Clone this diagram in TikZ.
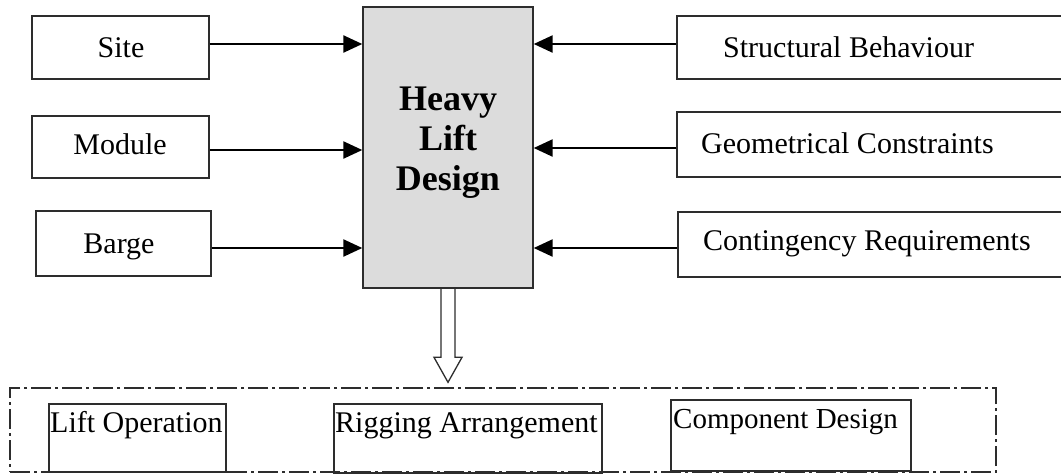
\documentclass[tikz,border=0pt]{standalone}
\usepackage{fontspec}
\setmainfont{Liberation Serif}
\usetikzlibrary{arrows.meta,calc}
\definecolor{boxgray}{RGB}{220,220,220}
\definecolor{edge}{RGB}{45,45,45}
\tikzset{
  inbox/.style={draw=edge, line width=1.4pt, rectangle, inner sep=0pt},
  lbl/.style={anchor=base west, inner sep=0pt, text=black, font=\fontsize{30}{36}\selectfont},
  lblc/.style={anchor=base, inner sep=0pt, text=black, font=\fontsize{30}{36}\selectfont},
  feed/.style={line width=2.4pt, draw=black, -{Triangle[length=19pt,width=17pt]}},
  hollowarrow/.style={line width=1.3pt, draw=edge},
  outbox/.style={draw=edge, line width=1.4pt, rectangle, inner sep=0pt,
                 dash pattern=on 20pt off 4pt on 3pt off 4pt}
}
\begin{document}
\begin{tikzpicture}[x=1pt,y=-1pt]
\useasboundingbox (0,0) rectangle (1061,475);
\clip (0,0) rectangle (1061,475);
\fill[white] (0,0) rectangle (1061,475);

% left input boxes
\node[inbox, minimum width=177pt, minimum height=63pt] (site)   at (120.5,47.5) {};
\node[inbox, minimum width=177pt, minimum height=62pt] (module) at (120.5,147) {};
\node[inbox, minimum width=175pt, minimum height=65pt] (barge)  at (123.5,243.5) {};

% central box
\node[inbox, fill=boxgray, minimum width=170pt, minimum height=281pt] (hld) at (448,147.5) {};

% right input boxes (cut by the right border)
\node[inbox, minimum width=398pt, minimum height=63pt] (struct) at (876,47.5) {};
\node[inbox, minimum width=398pt, minimum height=65pt] (geom)   at (876,144.5) {};
\node[inbox, minimum width=397pt, minimum height=65pt] (cont)   at (876.5,244.5) {};

% output group
\node[outbox, minimum width=986pt, minimum height=84pt] (out) at (503,430) {};
\node[inbox, minimum width=177pt, minimum height=68pt] (lift) at (137.5,438) {};
\node[inbox, minimum width=268pt, minimum height=69pt] (rig)  at (468,438.5) {};
\node[inbox, minimum width=240pt, minimum height=71pt] (comp) at (791,435.5) {};

% texts
\node[lblc] (tsite)  at (121,57)  {Site};
\node[lblc] (tmod)   at (120,154) {Module};
\node[lblc] (tbarge) at (119,253) {Barge};
\node[font=\bfseries\fontsize{36}{40}\selectfont, align=center, inner sep=0pt, text=black] (thld) at (448,143) {Heavy\\Lift\\Design};
\node[lbl] (tstr) at (723,57)    {Structural Behaviour};
\node[lbl] (tgeo) at (701,153)   {Geometrical Constraints};
\node[lbl] (tcon) at (703,250.5) {Contingency Requirements};
\node[lbl] (tlift) at (50,432)  {Lift Operation};
\node[lbl] (trig)  at (335,432) {Rigging Arrangement};
\node[lbl, font=\fontsize{29}{34}\selectfont] (tcomp) at (673,428) {Component Design};

% input arrows
\draw[feed] ([yshift=3.5pt]site.east)   -- ([yshift=3.5pt]site.east -| hld.west);
\draw[feed] ([yshift=-3pt]module.east)  -- ([yshift=-3pt]module.east -| hld.west);
\draw[feed] ([yshift=-4.5pt]barge.east) -- ([yshift=-4.5pt]barge.east -| hld.west);
\draw[feed] ([yshift=3.5pt]struct.west) -- ([yshift=3.5pt]struct.west -| hld.east);
\draw[feed] ([yshift=-3.5pt]geom.west)  -- ([yshift=-3.5pt]geom.west -| hld.east);
\draw[feed] ([yshift=-3.5pt]cont.west)  -- ([yshift=-3.5pt]cont.west -| hld.east);

% hollow output arrow
\coordinate (tip) at ($(out.north -| hld.south)+(0,-5)$);
\draw[hollowarrow] ($(hld.south)+(-7,0)$) -- ($(tip)+(-7,-25)$) -- ($(tip)+(-14,-25)$)
   -- (tip) -- ($(tip)+(14,-25)$) -- ($(tip)+(7,-25)$) -- ($(hld.south)+(7,0)$);
\end{tikzpicture}
\end{document}
